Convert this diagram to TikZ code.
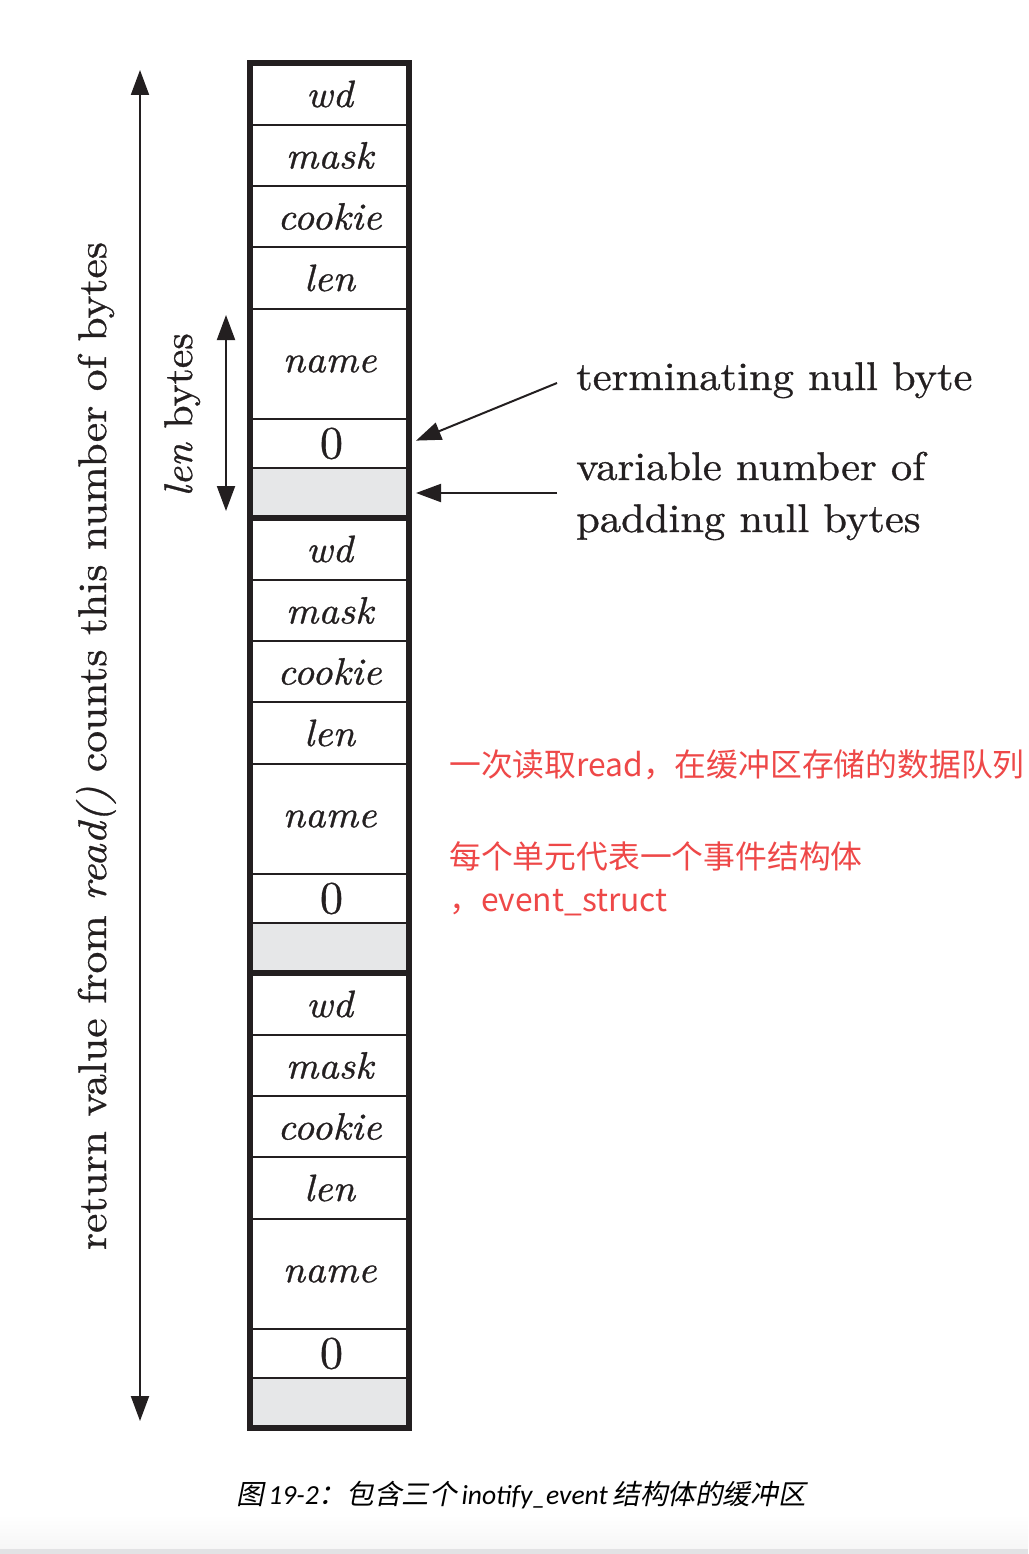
\documentclass[tikz,border=0pt]{standalone}
\usepackage{fontspec}
\usetikzlibrary{arrows.meta}
\newfontfamily\cjk{Noto Sans CJK SC}
\newfontfamily\capcjk[FakeSlant=0.2]{Noto Sans CJK SC}
\newfontfamily\caplat{Carlito}
\newfontfamily\lmlbl[Extension=.otf, UprightFont=*-regular, ItalicFont=*-italic, FakeStretch=1.064, FakeBold=0.8]{lmroman10}
\newfontfamily\lmret[Extension=.otf, UprightFont=*-regular, ItalicFont=*-italic, FakeStretch=1.09, FakeBold=0.8]{lmroman10}
\newfontfamily\lmlen[Extension=.otf, UprightFont=*-regular, ItalicFont=*-italic, FakeStretch=1.044, FakeBold=0.8]{lmroman10}
\newfontfamily\lmcell[Extension=.otf, UprightFont=*-regular, ItalicFont=*-italic, FakeStretch=1.05, FakeBold=0.8]{lmroman10}
\newfontfamily\lmzero[Extension=.otf, UprightFont=*-regular, ItalicFont=*-italic, FakeBold=0.6]{lmroman10}
\definecolor{padgray}{HTML}{E6E7E8}
\definecolor{notered}{RGB}{238,72,72}
\definecolor{ink}{HTML}{231F20}
\definecolor{fadegray}{RGB}{246,246,246}
\definecolor{edgegray}{RGB}{226,226,228}
\tikzset{
  cell/.style={draw=ink, line width=2pt, minimum width=159pt, inner sep=0pt, outer sep=0pt,
    anchor=north, font=\lmcell\fontsize{38}{40}\selectfont\itshape, text=ink},
  zerocell/.style={cell, font=\lmzero\fontsize{46}{48}\selectfont},
  padcell/.style={cell, fill=padgray},
  lbl/.style={inner sep=0pt, text=ink, font=\lmlbl\fontsize{40}{46}\selectfont},
  redtxt/.style={inner sep=0pt, text=notered, font=\fontsize{31.8}{36}\selectfont\cjk, anchor=west},
  arr/.style={draw=ink, line width=2pt, -{Triangle[width=18pt,length=25pt]}},
  darr/.style={draw=ink, line width=2pt, {Triangle[width=18pt,length=25pt]}-{Triangle[width=18pt,length=25pt]}},
  thick border/.style={draw=ink, line width=6pt}
}
\begin{document}
\begin{tikzpicture}[x=1pt,y=-1pt]
\useasboundingbox (0,0) rectangle (1028,1554);
\shade[top color=white, bottom color=fadegray] (0,1515) rectangle (1028,1549);
\fill[edgegray] (0,1549) rectangle (1028,1554);

\foreach \k/\T in {0/63,1/518,2/973} {
  \node[cell, minimum height=62pt] (c\k w) at (329.5,\T) {wd};
  \node[cell, minimum height=61pt] (c\k m) at (c\k w.south) {mask};
  \node[cell, minimum height=61pt] (c\k c) at (c\k m.south) {cookie};
  \node[cell, minimum height=62pt] (c\k l) at (c\k c.south) {len};
  \node[cell, minimum height=110pt] (c\k n) at (c\k l.south) {name};
  \node[zerocell, minimum height=49pt] (c\k z) at (c\k n.south) {\hspace{4pt}0};
  \node[padcell, minimum height=50pt] (c\k g) at (c\k z.south) {};
}
\draw[thick border] (c0w.north west) rectangle (c2g.south east);
\draw[thick border] (c0g.south west) -- (c0g.south east);
\draw[thick border] (c1g.south west) -- (c1g.south east);

% long arrow
\coordinate (lx) at (140,0);
\draw[darr, shorten <=7pt, shorten >=7pt] (c0w.north -| lx) -- (c2g.south -| lx);
\node[lbl, rotate=90, anchor=base, font=\lmret\fontsize{40}{46}\selectfont] (retlbl) at (106,746)
  {return value from\ \textit{read()}\ counts this number of bytes};

% len bytes
\coordinate (lenx) at (226,0);
\draw[darr, shorten <=6pt, shorten >=7pt] (c0n.north -| lenx) -- (c0g.south -| lenx);
\node[lbl, rotate=90, anchor=base, font=\lmlen\fontsize{40}{46}\selectfont] (lenlbl) at (192,415) {\textit{len} bytes};

% right labels
\node[lbl, anchor=base west] (tnb) at (576,390) {terminating null byte};
\node[lbl, anchor=base west] (vn1) at (576,480) {variable number of};
\node[lbl, anchor=base west] (vn2) at (576,532) {padding null bytes};
\coordinate (tA) at (557,383);
\coordinate (pA) at (557,493);
\draw[arr, shorten >=7.6pt] (tA) -- (c0z.east);
\draw[arr, shorten >=7pt] (pA) -- (c0g.east);

% red notes
\node[redtxt] (r1) at (449,765) {一次读取read，在缓冲区存储的数据队列};
\node[redtxt] (r2) at (449,856) {每个单元代表一个事件结构体};
\node[redtxt] (r3) at (449,903) {，event\_struct};

% caption
\node[inner sep=0pt, text=black, font=\fontsize{27.6}{30}\selectfont] (cap) at (521,1495)
  {{\capcjk 图}\,{\caplat\itshape 19-2}{\capcjk ：包含三个}\,{\caplat\itshape inotify\_event}\,{\capcjk 结构体的缓冲区}};
\end{tikzpicture}
\end{document}
